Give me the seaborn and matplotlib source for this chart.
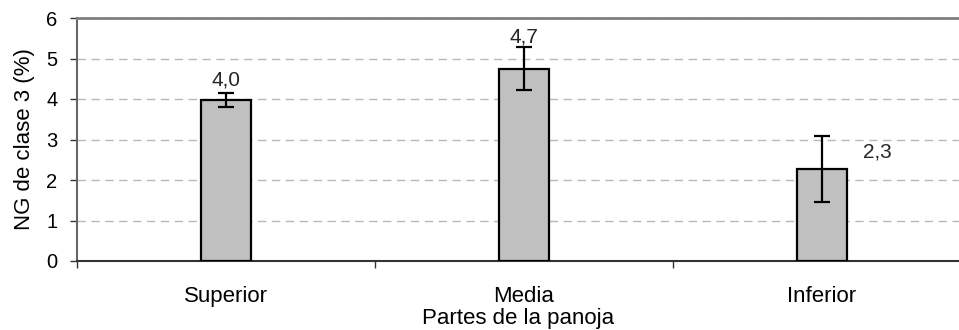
import numpy as np
import pandas as pd
import matplotlib
matplotlib.use("Agg")
import matplotlib.pyplot as plt
import seaborn as sns
from matplotlib.ticker import FixedLocator

# data
partes = ["Superior", "Media", "Inferior"]
ng_clase3 = [3.97, 4.75, 2.26]
err_low = [3.81, 4.22, 1.46]
err_high = [4.14, 5.29, 3.09]
etiquetas = ["4,0", "4,7", "2,3"]

df = pd.DataFrame({"parte": partes, "ng": ng_clase3})

sns.set_style("white")
plt.rcParams["font.family"] = ["Liberation Sans", "DejaVu Sans"]

fig = plt.figure(figsize=(9.59, 3.30), dpi=100)
ax = fig.add_axes([77 / 959, 1 - 261 / 330, 882 / 959, 243 / 330])

sns.barplot(data=df, x="parte", y="ng", color="#c0c0c0", width=0.168,
            edgecolor="black", linewidth=1.6, errorbar=None, saturation=1,
            ax=ax, zorder=3)

# error bars
x = np.arange(len(partes))
vals = np.array(ng_clase3)
yerr = np.vstack([vals - np.array(err_low), np.array(err_high) - vals])
ax.errorbar(x, vals, yerr=yerr, fmt="none", ecolor="black", elinewidth=1.6,
            capsize=6, capthick=1.6, zorder=4)

# value labels (Excel style positions)
ax.text(0, 4.24, etiquetas[0], ha="center", va="bottom", fontsize=15)
ax.text(1, 5.30, etiquetas[1], ha="center", va="bottom", fontsize=15)
ax.text(2.186, 2.7, etiquetas[2], ha="center", va="center", fontsize=15)

ax.set_ylim(0, 6)
ax.set_xlim(-0.5, -0.5 + 882 / 298)
ax.set_yticks(range(0, 7))
ax.tick_params(axis="y", labelsize=14.5, length=5, width=1, direction="out",
               left=True, colors="#333333", labelcolor="black", pad=9)
ax.tick_params(axis="x", which="major", length=0, pad=18, labelsize=16,
               labelcolor="black")
ax.xaxis.set_minor_locator(FixedLocator([-0.5, 0.5, 1.5]))
ax.tick_params(axis="x", which="minor", length=5, width=1, direction="out",
               bottom=True, colors="#333333")

ax.yaxis.grid(True, linestyle=(0, (6, 4)), color="#b8b8b8", linewidth=1)
ax.set_axisbelow(True)

ax.spines["top"].set_color("#808080")
ax.spines["top"].set_linewidth(2)
ax.spines["right"].set_visible(False)
ax.spines["left"].set_color("#666666")
ax.spines["left"].set_linewidth(1.5)
ax.spines["bottom"].set_color("#333333")
ax.spines["bottom"].set_linewidth(1.5)

ax.set_xlabel("Partes de la panoja", fontsize=16, labelpad=0.5, color="black")
ax.set_ylabel("NG de clase 3 (%)", fontsize=16, labelpad=8, color="black")

fig.savefig("out.png", dpi=100)
